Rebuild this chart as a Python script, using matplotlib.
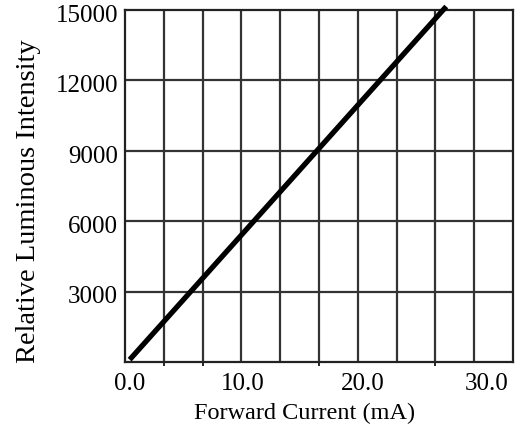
import matplotlib
matplotlib.use('Agg')
import matplotlib.pyplot as plt
import numpy as np

# Data
current = [0.4, 27.6]          # mA
intensity = [100, 15150]       # relative luminous intensity

x_grid = np.arange(0, 11) * (100 / 30)   # 10 columns across 0..33.3 mA
x_ticks = [0, 10, 20, 30]
x_labels = ['0.0', '10.0', '20.0', '30.0']
y_ticks = [3000, 6000, 9000, 12000, 15000]
y_labels = ['3000', '6000', '9000', '12000', '15000']
x_marks = [x_grid[1], x_grid[2], x_grid[5], x_grid[8]]

plt.rcParams['font.family'] = ['Liberation Serif', 'DejaVu Serif']

fig = plt.figure(figsize=(5.2, 4.26), dpi=100)
ax = fig.add_axes([0.2404, 0.1502, 0.7461, 0.8263])

ax.set_xlim(0, 100 / 3)
ax.set_ylim(0, 15000)

for xv in x_grid[1:-1]:
    ax.axvline(xv, color='#333333', lw=1.6, zorder=1)
for yv in y_ticks[:-1]:
    ax.axhline(yv, color='#333333', lw=1.6, zorder=1)

ax.plot(current, intensity, color='black', lw=3.8, solid_capstyle='butt',
        clip_on=False, zorder=3)

for s in ax.spines.values():
    s.set_linewidth(1.6)
    s.set_color('#222222')

ax.set_xticks(x_marks, minor=True)
ax.tick_params(axis='x', which='minor', length=3, width=1.4, color='#222222')
ax.set_xticks([])
ax.set_yticks([])

# tick labels placed as text, nudged like the datasheet
x_shift = [0.43, 0.14, 0.45, 1.1]
for xv, dx, lab in zip(x_ticks, x_shift, x_labels):
    ax.text(xv + dx, -450, lab, ha='center', va='top', fontsize=18)
for yv, lab in zip(y_ticks, y_labels):
    ax.text(-0.6, yv - 250, lab, ha='right', va='center', fontsize=18)

fig.text(0.585, 0.03, 'Forward Current (mA)', ha='center', va='center', fontsize=17.5)
fig.text(0.054, 0.528, 'Relative Luminous Intensity', ha='center', va='center',
         rotation=90, fontsize=20.5)

fig.savefig('out.png', dpi=100, facecolor='white')
